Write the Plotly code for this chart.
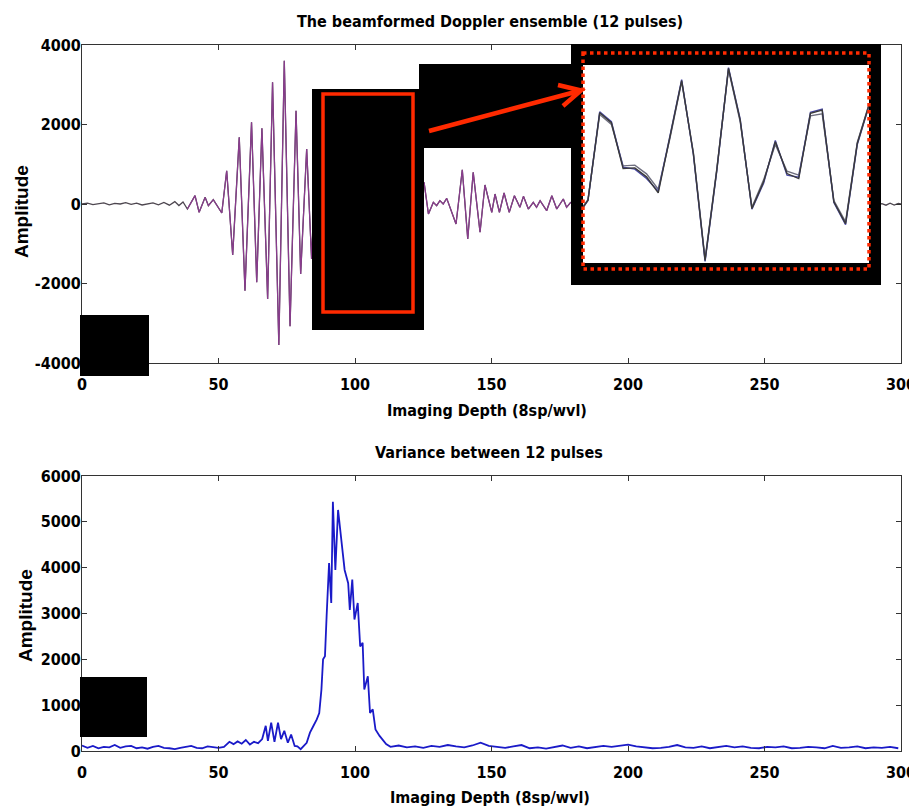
import plotly.graph_objects as go

W, H = 917, 807
OFF = 8  # the page body margin shifts the figure by this many pixels
FIG_W, FIG_H = W - OFF, H - OFF  # keep the figure inside the window (no scrollbars)

# ---------------- data: top panel (beamformed ensemble) ----------------
quiet_depth = [0, 2, 4, 6, 8, 10, 12, 14, 16, 18, 20, 22, 24, 26, 28, 30, 32, 34, 35.5, 37]
quiet_amp = [0, 20, -15, 10, 30, -20, 15, 0, 35, -10, 20, -25, 10, 30, -20, 40, -30, 60, -40, 50]

burst_depth = [38.6, 41.4, 42.9, 45.1, 46.3, 48.1, 51.2, 53.0, 55.2, 57.6, 59.7, 62.1, 64.0,
               65.9, 68.0, 69.8, 72.1, 74.1, 76.2, 78.4, 80.1, 82.3, 84.1]
burst_amp = [-126, 210, -210, 167, -42, 109, -226, 837, -1283, 1677, -2180, 2054, -1970,
             1903, -2390, 3060, -3546, 3605, -3076, 2347, -1760, 1383, -1383]

masked_depth = [86.2, 88.3, 90.4, 92.5, 94.6, 96.7, 98.8, 100.9, 103.0, 105.1, 107.2, 109.3,
                111.4, 113.5, 115.6, 117.7, 119.8, 121.9, 124.0]
masked_amp = [1800, -2200, 2400, -2500, 2300, -2100, 1900, -1700, 1500, -1300, 1100, -900,
              700, -500, 400, -300, 250, -200, 150]

echo_depth = [125.3, 126.9, 128.7, 129.9, 131.1, 132.3, 133.6, 134.8, 137.0, 139.3, 141.3, 143.3,
              145.8, 147.6, 150.1, 151.3, 152.9, 154.6, 156.5, 158.4, 160.4, 161.7, 163.5, 165.3,
              166.5, 167.8, 170.2, 172.1, 173.9, 176.3, 177.5, 179.0]
echo_amp = [545, -252, 42, -42, 84, 0, 142, -84, -503, 863, -880, 797, -712, 478, -209, 251,
            -209, 277, -209, 209, -84, 193, -126, 42, -84, 84, -168, 209, -126, 126, -84, 42]

late_depth = [183, 187, 191, 195, 199, 203, 207, 211, 215, 219, 223, 227, 231, 235, 239, 243,
              247, 251, 255, 259, 263, 267, 271, 275, 279, 283, 287, 291,
              293, 294.5, 296, 297.5, 299, 300]
late_amp = [30, -40, 60, -50, 20, -30, 50, -60, 40, -20, 30, -50, 60, -40, 20, -30, 40, -60,
            50, -20, 30, -40, 60, -30, 20, -50, 40, -20,
            10, -30, 20, -25, 15, 0]

# inset (zoomed view of the ensemble)
inset_sample = list(range(-1, 25))
inset_pulse_a = [-125, 125, 1435, 1285, 600, 610, 475, 235, 1075, 1915, 825, -775, 575, 2100,
                 1325, 0, 400, 1000, 525, 450, 1425, 1475, 100, -225, 975, 1550]
inset_pulse_b = [-110, 135, 1410, 1260, 640, 650, 520, 290, 1050, 1900, 840, -760, 590, 2080,
                 1300, 20, 430, 960, 560, 500, 1390, 1420, 120, -200, 990, 1560]
inset_pulse_c = [-130, 120, 1450, 1300, 620, 590, 450, 260, 1090, 1930, 810, -790, 560, 2110,
                 1340, -10, 380, 1020, 500, 470, 1440, 1490, 90, -240, 960, 1540]

# ---------------- data: bottom panel (variance) ----------------
var_quiet_depth = list(range(0, 53, 2))
var_quiet = [120, 70, 110, 60, 90, 80, 130, 70, 100, 110, 60, 80, 50, 90, 110, 70, 60, 40,
             70, 90, 110, 70, 60, 100, 80, 70, 90]
var_peak_depth = [54, 55.5, 57, 58.5, 60, 61.5, 63, 64.5, 66, 67.3, 68.1, 69.3, 70.5, 71.8,
                  72.9, 74.1, 75.4, 76.6, 77.9, 78.9, 80.1, 82.3, 83.5, 84.7, 86.0, 86.9, 87.7,
                  88.3, 89.0, 89.6, 90.5, 91.3, 91.9, 92.8, 93.8, 95.0, 96.2, 97.5, 98.1, 99.0,
                  99.8, 101.0, 101.9, 102.8, 103.4, 104.7, 105.5, 106.5, 107.5, 109.0, 111.4]
var_peak = [200, 150, 210, 160, 240, 140, 200, 170, 260, 550, 220, 620, 200, 620, 260, 440,
            180, 360, 110, 100, 40, 180, 400, 540, 690, 830, 1340, 2000, 2070, 2940, 4100,
            3230, 5440, 3950, 5260, 4600, 3950, 3660, 3080, 3740, 2870, 3230, 2280, 2360,
            1340, 1630, 830, 910, 470, 330, 150]
var_tail_depth = list(range(113, 300, 3))
var_tail = [90, 120, 80, 100, 70, 110, 90, 130, 100, 80, 120, 180, 110, 90, 70, 100, 130, 60,
            80, 50, 90, 120, 70, 100, 60, 80, 110, 90, 120, 140, 100, 80, 60, 70, 90, 130, 80,
            70, 100, 60, 90, 110, 80, 100, 70, 60, 90, 80, 100, 60, 70, 90, 80, 60, 110, 70,
            80, 100, 60, 80, 70, 90, 60]

x_ticks = [0, 50, 100, 150, 200, 250, 300]
top_y_ticks = [-4000, -2000, 0, 2000, 4000]
top_y_labels = ["-4000", "-2000", "0", "2000", "4000"]
bot_y_ticks = [0, 1000, 2000, 3000, 4000, 5000, 6000]

top_title = "The beamformed Doppler ensemble (12 pulses)"
bot_title = "Variance between 12 pulses"
x_title = "Imaging Depth (8sp/wvl)"
y_title = "Amplitude"

# ---------------- figure ----------------
NARROW = "DejaVu Sans Condensed, Liberation Sans Narrow, Arial Narrow, sans-serif"
SANS = "Liberation Sans, Arial, sans-serif"

all_depth = quiet_depth + burst_depth + masked_depth + echo_depth + late_depth
all_amp = quiet_amp + burst_amp + masked_amp + echo_amp + late_amp

fig = go.Figure()
fig.add_trace(go.Scatter(x=all_depth, y=all_amp, mode="lines",
                         line=dict(color="#4d464f", width=1.3), xaxis="x", yaxis="y",
                         hoverinfo="skip", showlegend=False))
fig.add_trace(go.Scatter(x=burst_depth + masked_depth + echo_depth,
                         y=burst_amp + masked_amp + echo_amp, mode="lines",
                         line=dict(color="#8a3c8e", width=1.2), xaxis="x", yaxis="y",
                         hoverinfo="skip", showlegend=False))
fig.add_trace(go.Scatter(x=var_quiet_depth + var_peak_depth + var_tail_depth,
                         y=var_quiet + var_peak + var_tail, mode="lines",
                         line=dict(color="#1a1ac8", width=1.8), xaxis="x2", yaxis="y2",
                         hoverinfo="skip", showlegend=False))
# overlay subplot (pixel coordinates) used for the masking boxes
fig.add_trace(go.Scatter(x=[None], y=[None], mode="lines", xaxis="x3", yaxis="y3",
                         hoverinfo="skip", showlegend=False))
# inset subplot
for vals, col in [(inset_pulse_b, "#707080"), (inset_pulse_c, "#4a4aa8"), (inset_pulse_a, "#3a3a3a")]:
    fig.add_trace(go.Scatter(x=inset_sample, y=vals, mode="lines",
                             line=dict(color=col, width=1.4), xaxis="x4", yaxis="y4",
                             hoverinfo="skip", showlegend=False))

axis_common = dict(showline=True, linecolor="#333333", linewidth=1, mirror="ticks",
                   ticks="inside", ticklen=5, tickcolor="#333333", showgrid=False,
                   zeroline=False, automargin=False,
                   tickfont=dict(family=NARROW, size=16, color="black", weight="bold"))

def px_x(p):
    return (p - OFF) / FIG_W

def px_y(p):
    return 1 - (p - OFF) / FIG_H

hidden = dict(visible=False, automargin=False)
fig.update_layout(
    width=FIG_W, height=FIG_H,
    margin=dict(l=0, r=0, t=0, b=0, pad=0, autoexpand=False),
    paper_bgcolor="white", plot_bgcolor="rgba(0,0,0,0)",
    showlegend=False,
    xaxis=dict(domain=[px_x(82), px_x(901)], range=[0, 300], tickvals=x_ticks, anchor="y",
               ticklabelstandoff=7, **axis_common),
    yaxis=dict(domain=[px_y(363), px_y(45)], range=[-4000, 4000], tickvals=top_y_ticks,
               ticktext=top_y_labels, anchor="x", ticklabelstandoff=-3, **axis_common),
    xaxis2=dict(domain=[px_x(82), px_x(901)], range=[0, 300], tickvals=x_ticks, anchor="y2",
                ticklabelstandoff=7, **axis_common),
    yaxis2=dict(domain=[px_y(751), px_y(476)], range=[0, 6000], tickvals=bot_y_ticks,
                anchor="x2", ticklabelstandoff=-3, **axis_common),
    xaxis3=dict(domain=[0, 1], range=[OFF, W], anchor="y3", fixedrange=True, **hidden),
    yaxis3=dict(domain=[0, 1], range=[H, OFF], anchor="x3", fixedrange=True, **hidden),
    xaxis4=dict(domain=[px_x(583), px_x(869)], range=[-0.425, 24], anchor="y4", **hidden),
    yaxis4=dict(domain=[px_y(263), px_y(65)], range=[-815, 2150], anchor="x4", **hidden),
)

# masking boxes (pixel coords via overlay axes x3/y3), drawn above the main traces
black_boxes = [(80, 315, 149, 376), (312, 89, 424, 330), (419, 64, 585, 148),
               (571, 44, 881, 285), (80, 677, 147, 737)]
shapes = []
for x0, y0, x1, y1 in black_boxes:
    shapes.append(dict(type="rect", xref="x3", yref="y3", x0=x0, y0=y0, x1=x1, y1=y1,
                       fillcolor="black", line=dict(width=0), layer="below"))
# inset white background
shapes.append(dict(type="rect", xref="x3", yref="y3", x0=583, y0=65, x1=869, y1=263,
                   fillcolor="white", line=dict(width=0), layer="below"))
RED = "#ff2a00"
shapes.append(dict(type="rect", xref="x3", yref="y3", x0=323, y0=94, x1=413, y1=312,
                   line=dict(color=RED, width=3.5), layer="above"))
shapes.append(dict(type="rect", xref="x3", yref="y3", x0=583, y0=53, x1=869, y1=269,
                   line=dict(color=RED, width=3.5, dash="dot"), layer="above"))
shapes.append(dict(type="path", xref="x3", yref="y3",
                   path="M 429 131 L 579 91 M 558 85 L 581 90.5 L 563 106",
                   line=dict(color=RED, width=4.5), layer="above"))
fig.update_layout(shapes=shapes)

title_font = dict(family=NARROW, size=16, color="black", weight="bold")
ann = [
    dict(text=top_title, x=490, y=21, font=title_font),
    dict(text=x_title, x=487, y=410, font=title_font),
    dict(text=bot_title, x=489, y=452, font=title_font),
    dict(text=x_title, x=490, y=797, font=title_font),
    dict(text=y_title, x=21, y=212, textangle=-90,
         font=dict(family=SANS, size=19, color="black", weight="bold")),
    dict(text=y_title, x=25, y=616, textangle=-90,
         font=dict(family=SANS, size=19, color="black", weight="bold")),
]
for a in ann:
    fig.add_annotation(xref="x3", yref="y3", showarrow=False, xanchor="center",
                       yanchor="middle", **a)

fig.write_html("out.html", config={"displayModeBar": False})
